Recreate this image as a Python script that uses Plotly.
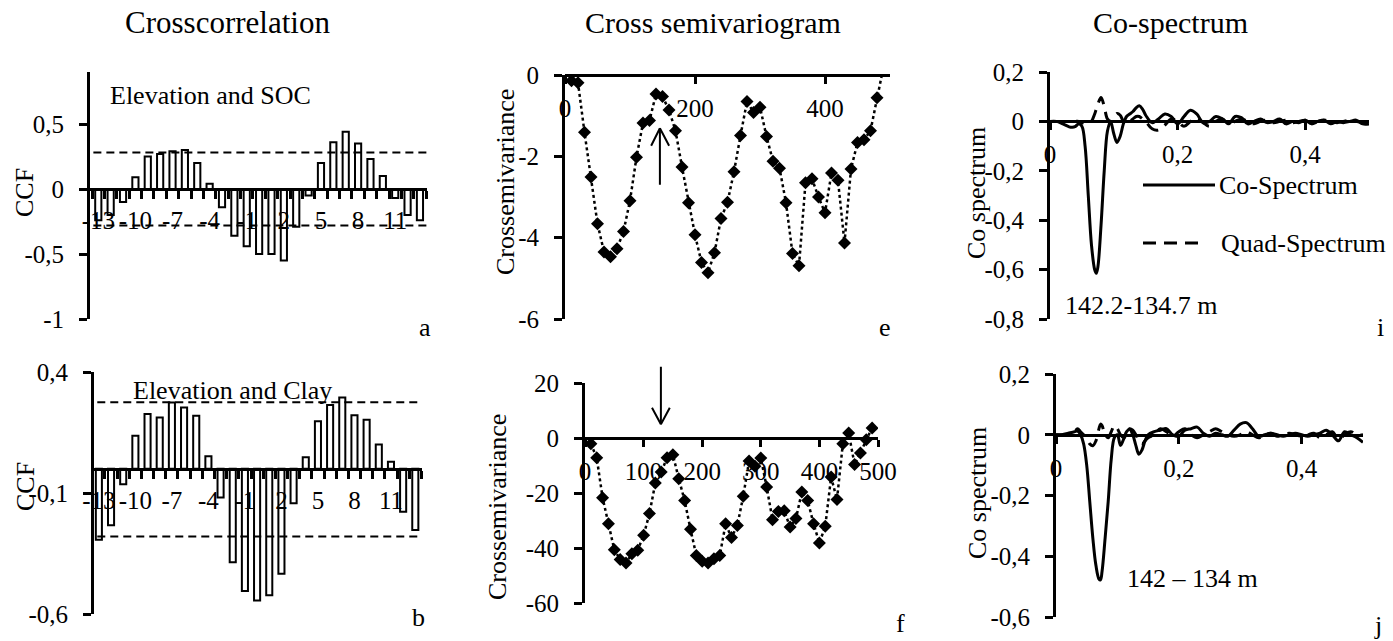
import plotly.graph_objects as go

W, H = 1393, 641
FONT = "Times New Roman, Liberation Serif, DejaVu Serif, serif"

# ---------------- data ----------------
lags = [-13, -12, -11, -10, -9, -8, -7, -6, -5, -4, -3, -2, -1, 0,
        1, 2, 3, 4, 5, 6, 7, 8, 9, 10, 11, 12, 13]
ccf_soc = [-0.24, -0.2, -0.1, 0.09, 0.25, 0.27, 0.29, 0.3, 0.2, 0.04,
           -0.14, -0.36, -0.44, -0.5, -0.5, -0.55, -0.29, -0.05, 0.2, 0.36,
           0.44, 0.35, 0.23, 0.1, -0.07, -0.2, -0.24]
ccf_clay = [-0.293, -0.233, -0.064, 0.137, 0.226, 0.212, 0.274, 0.253, 0.219, 0.052,
            -0.119, -0.386, -0.505, -0.544, -0.523, -0.434, -0.142, 0.048, 0.196, 0.264,
            0.295, 0.221, 0.203, 0.1, 0.029, -0.177, -0.253]
conf_soc = [0.28, -0.28]
conf_clay = [0.275, -0.28]
lag_tickvals = [-13, -10, -7, -4, -1, 2, 5, 8, 11]
lag_ticktext = ["-13", "-10", "-7", "-4", "-1", "2", "5", "8", "11"]

dist = [10, 20, 30, 40, 50, 60, 70, 80, 90, 100, 110, 120, 130, 140, 150, 160,
        170, 180, 190, 200, 210, 220, 230, 240, 250, 260, 270, 280, 290, 300,
        310, 320, 330, 340, 350, 360, 370, 380, 390, 400, 410, 420, 430, 440,
        450, 460, 470, 480, 490]
semivar_soc = [-0.14, -0.19, -1.41, -2.51, -3.66, -4.35, -4.47, -4.27, -3.85, -3.09,
               -2.02, -1.18, -1.12, -0.47, -0.53, -0.86, -1.37, -2.26, -3.14, -3.93,
               -4.61, -4.86, -4.37, -3.53, -3.13, -2.38, -1.49, -0.65, -0.92, -0.79,
               -1.51, -2.12, -2.29, -3.14, -4.39, -4.69, -2.65, -2.55, -3.0, -3.39,
               -2.41, -2.59, -4.13, -2.31, -1.66, -1.59, -1.37, -0.56, 0.2]
semivar_clay = [-2.1, -7.2, -21.7, -31.2, -40.6, -44.2, -45.5, -42.1, -40.8, -35.4,
                -27.5, -16.4, -12.4, -7.2, -6.1, -14.8, -22.7, -33.2, -42.7, -44.8,
                -45.5, -43.9, -42.7, -31.2, -36.2, -31.8, -21.2, -8.4, -10.3, -7.3,
                -17.8, -29.7, -26.7, -26.5, -32.4, -29.3, -19.6, -22.7, -31.2, -38.2,
                -32.1, -14.2, -22.4, -2.1, 1.8, -9.6, -5.5, -0.6, 3.6]

freq = [0, 0.01, 0.02, 0.03, 0.035, 0.04, 0.045, 0.05, 0.055, 0.06, 0.065, 0.07,
        0.0725, 0.075, 0.08, 0.085, 0.09, 0.095, 0.1, 0.105, 0.11, 0.115, 0.12,
        0.125, 0.13, 0.135, 0.14, 0.145, 0.15,
        0.16, 0.17, 0.18, 0.19, 0.2, 0.21, 0.22, 0.23, 0.24, 0.25, 0.26, 0.27,
        0.28, 0.29, 0.3, 0.31, 0.32, 0.33, 0.34, 0.35, 0.36, 0.37, 0.38, 0.39,
        0.4, 0.41, 0.42, 0.43, 0.44, 0.45, 0.46, 0.47, 0.48, 0.49, 0.5]
co_soc = [0, 0, -0.01, -0.022, -0.024, -0.02, -0.01, -0.02, -0.1, -0.3, -0.5, -0.6,
          -0.615, -0.59, -0.42, -0.2, -0.04, 0.0, -0.05, -0.085, -0.06, -0.01, 0.02,
          0.03, 0.04, 0.055, 0.063, 0.05, 0.025,
          -0.005, 0.01, 0.03, 0.02, -0.01, 0.02, 0.045, 0.03, -0.005, 0.0,
          0.02, 0.01, -0.01, 0.02, 0.015, -0.01, 0.0, 0.01, -0.005, 0.0,
          0.01, -0.01, 0.0, -0.005, 0.005, -0.01, 0.0, 0.005, -0.01, 0.0,
          -0.005, 0.0, 0.005, -0.01, -0.01]
quad_soc = [0, 0, 0, 0, 0, 0, 0, -0.005, -0.01, -0.01, 0.0, 0.03,
            0.05, 0.07, 0.097, 0.06, 0.01, 0.0, 0.015, 0.032, 0.025, 0.0, -0.01,
            0.0, 0.01, 0.02, 0.02, 0.01, 0.0,
            -0.03, -0.035, -0.015, 0.01, 0.0, -0.02, 0.0, 0.015, -0.005, -0.02,
            0.0, 0.01, -0.01, 0.0, 0.01, 0.0, -0.01, 0.0, 0.005, -0.005,
            0.0, 0.005, -0.005, 0.0, 0.005, -0.005, 0.0, 0.005, 0.0, -0.005,
            0.0, 0.005, 0.0, -0.005, 0.0]
co_clay = [0, 0, 0.005, 0.01, 0.012, 0.0, -0.03, -0.1, -0.22, -0.34, -0.43, -0.475,
           -0.478, -0.45, -0.34, -0.22, -0.08, -0.01, 0.0, -0.035, -0.015, 0.01, 0.018,
           0.0, -0.035, -0.064, -0.05, -0.02, 0.0,
           0.01, 0.015, 0.02, 0.0, -0.005, 0.015, 0.02, 0.025, 0.005, -0.005,
           0.005, 0.0, -0.005, 0.015, 0.035, 0.04, 0.02, -0.005, 0.0, 0.005,
           0.0, -0.005, 0.0, 0.005, 0.0, -0.005, 0.0, 0.005, 0.015, 0.0,
           -0.02, 0.01, 0.0, -0.01, -0.025]
quad_clay = [0, 0, 0, 0.01, 0.02, 0.01, 0.0, -0.01, -0.03, -0.036, -0.02, 0.02,
             0.035, 0.03, 0.0, -0.01, 0.01, 0.03, 0.02, 0.0, -0.01, 0.0, 0.02,
             0.015, 0.0, -0.02, -0.03, -0.02, -0.01,
             0.0, 0.02, 0.01, -0.005, 0.01, 0.02, 0.0, -0.01, 0.0, 0.01,
             0.02, 0.01, 0.0, -0.005, 0.0, 0.01, 0.0, -0.01, 0.0, 0.005,
             -0.005, 0.0, 0.005, 0.0, -0.005, 0.0, 0.005, -0.01, 0.0, 0.01,
             -0.015, 0.0, 0.01, 0.0, 0.0]

series_names = ["Co-Spectrum", "Quad-Spectrum"]

# ---------------- layout helpers ----------------
def fx(p):
    return p / W


def fy(p):
    return 1 - p / H


# panel boxes in pixels: (left, right, top, bottom), axis ranges
panels = {
    "a": dict(box=(90, 427, 72, 319), xr=[-13.67, 13.57], yr=[-1, 0.9]),
    "b": dict(box=(94, 422, 372, 614), xr=[-13.4, 13.55], yr=[-0.6, 0.4]),
    "e": dict(box=(565, 890, 75, 319), xr=[0, 500], yr=[-6, 0]),
    "f": dict(box=(585, 878, 383, 603), xr=[0, 500], yr=[-60, 20]),
    "i": dict(box=(1050, 1369, 72, 319), xr=[0, 0.5], yr=[-0.8, 0.2]),
    "j": dict(box=(1056, 1363, 374, 617), xr=[0, 0.5], yr=[-0.6, 0.2]),
}
order = ["a", "b", "e", "f", "i", "j"]

fig = go.Figure()

tickfont = dict(family=FONT, size=25, color="black")

for k, name in enumerate(order):
    p = panels[name]
    l, r, t, b = p["box"]
    xdom = [fx(l), fx(r)]
    ydom = [fy(b), fy(t)]
    yr = p["yr"]
    pos = ydom[0] + (0 - yr[0]) / (yr[1] - yr[0]) * (ydom[1] - ydom[0])
    sfx = "" if k == 0 else str(k + 1)
    xa = dict(domain=xdom, range=p["xr"], anchor="free", position=pos,
              automargin=False,
              showline=True, linecolor="black", linewidth=3, showgrid=False,
              zeroline=False, tickfont=tickfont, ticklabelstandoff=3,
              ticks="outside", ticklen=7, tickwidth=3, tickcolor="black")
    ya = dict(domain=ydom, range=yr, anchor="x" + sfx, automargin=False,
              showline=True, linecolor="black", linewidth=3, showgrid=False,
              zeroline=False, tickfont=tickfont, ticks="outside", ticklen=8,
              tickwidth=3, tickcolor="black", ticklabelstandoff=10)
    fig.layout["xaxis" + sfx] = xa
    fig.layout["yaxis" + sfx] = ya

# category-style lag axes
for sfx in ["", "2"]:
    fig.layout["xaxis" + sfx].update(
        tickmode="array", tickvals=lag_tickvals, ticktext=lag_ticktext,
        ticks="", ticklabelstandoff=8,
        minor=dict(ticks="outside", ticklen=8, tickwidth=2.5, tickcolor="black",
                   tick0=0.5, dtick=1, showgrid=False))

fig.layout.yaxis.update(tickmode="array", tickvals=[-1, -0.5, 0, 0.5],
                        ticktext=["-1", "-0,5", "0", "0,5"])
fig.layout.yaxis2.update(tickmode="array", tickvals=[-0.6, -0.1, 0.4],
                         ticktext=["-0,6", "-0,1", "0,4"])
fig.layout.xaxis3.update(tickmode="array", tickvals=[0, 200, 400],
                         ticktext=["0", "200", "400"])
fig.layout.yaxis3.update(tickmode="array", tickvals=[-6, -4, -2, 0],
                         ticktext=["-6", "-4", "-2", "0"])
fig.layout.xaxis4.update(tickmode="array", tickvals=[0, 100, 200, 300, 400, 500],
                         ticktext=["0", "100", "200", "300", "400", "500"])
fig.layout.yaxis4.update(tickmode="array", tickvals=[-60, -40, -20, 0, 20],
                         ticktext=["-60", "-40", "-20", "0", "20"])
fig.layout.xaxis5.update(tickmode="array", tickvals=[0, 0.2, 0.4],
                         ticktext=["0", "0,2", "0,4"])
fig.layout.yaxis5.update(tickmode="array", tickvals=[-0.8, -0.6, -0.4, -0.2, 0, 0.2],
                         ticktext=["-0,8", "-0,6", "-0,4", "-0,2", "0", "0,2"])
fig.layout.xaxis6.update(tickmode="array", tickvals=[0, 0.2, 0.4],
                         ticktext=["0", "0,2", "0,4"])
fig.layout.yaxis6.update(tickmode="array", tickvals=[-0.6, -0.4, -0.2, 0, 0.2],
                         ticktext=["-0,6", "-0,4", "-0,2", "0", "0,2"])

# ---------------- traces ----------------
bar_style = dict(marker=dict(color="white", line=dict(color="black", width=2)),
                 width=0.5, showlegend=False)
fig.add_trace(go.Bar(x=lags, y=ccf_soc, xaxis="x", yaxis="y", **bar_style))
fig.add_trace(go.Bar(x=lags, y=ccf_clay, xaxis="x2", yaxis="y2", **bar_style))

for xr_, yr_, vals in [("x", "y", conf_soc), ("x2", "y2", conf_clay)]:
    for v in vals:
        fig.add_shape(type="line", xref=xr_ + " domain", yref=yr_, x0=0.01, x1=1,
                      y0=v, y1=v, line=dict(color="black", width=2, dash="8px,5px"))

sv_style = dict(mode="lines+markers",
                line=dict(color="black", width=2.5, dash="dot"),
                marker=dict(symbol="diamond", size=10, color="black"),
                showlegend=False)
fig.add_trace(go.Scatter(x=dist, y=semivar_soc, xaxis="x3", yaxis="y3", **sv_style))
fig.add_trace(go.Scatter(x=dist, y=semivar_clay, xaxis="x4", yaxis="y4", **sv_style))

CO_LINE = dict(color="black", width=3, shape="spline")
QUAD_LINE = dict(color="black", width=3, shape="spline", dash="13px,8px")

fig.add_trace(go.Scatter(x=freq, y=co_soc, xaxis="x5", yaxis="y5", mode="lines",
                         line=CO_LINE, name=series_names[0], showlegend=False))
fig.add_trace(go.Scatter(x=freq, y=quad_soc, xaxis="x5", yaxis="y5", mode="lines",
                         line=QUAD_LINE, name=series_names[1], showlegend=False))
fig.add_trace(go.Scatter(x=freq, y=co_clay, xaxis="x6", yaxis="y6", mode="lines",
                         line=CO_LINE, name=series_names[0], showlegend=False))
fig.add_trace(go.Scatter(x=freq, y=quad_clay, xaxis="x6", yaxis="y6", mode="lines",
                         line=QUAD_LINE, name=series_names[1], showlegend=False))

# ---------------- annotations ----------------
ann = []


def text(s, x, y, size=26, xanchor="center", angle=0):
    ann.append(dict(text=s, x=fx(x), y=fy(y), xref="paper", yref="paper",
                    showarrow=False, xanchor=xanchor, yanchor="middle",
                    textangle=angle, font=dict(family=FONT, size=size, color="black")))


text("Crosscorrelation", 227, 22, size=31)
text("Cross semivariogram", 713, 22, size=30)
text("Co-spectrum", 1170, 22, size=30)

text("CCF", 25, 193, angle=-90)
text("CCF", 25, 487, angle=-90)
text("Crossemivariance", 505, 182, angle=-90)
text("Crossemivariance", 497, 507, angle=-90)
text("Co spectrum", 977, 193, angle=-90)
text("Co spectrum", 977, 493, angle=-90)

text("Elevation and SOC", 108, 95, xanchor="left")
text("Elevation and Clay", 131, 390, xanchor="left")
text("142.2-134.7 m", 1063, 305, xanchor="left")
text("142 \u2013 134 m", 1125, 578, xanchor="left")

text("a", 425, 327)
text("b", 418, 617)
text("e", 885, 327)
text("f", 900, 623)
text("i", 1380, 327)
text("j", 1378, 625)

# legend of panel i (long line samples as in the original)
text(series_names[0], 1217, 185, xanchor="left")
text(series_names[1], 1219, 243, xanchor="left")
fig.add_shape(type="line", xref="paper", yref="paper", x0=fx(1143), x1=fx(1215),
              y0=fy(185), y1=fy(185), line=dict(color="black", width=3))
fig.add_shape(type="line", xref="paper", yref="paper", x0=fx(1143), x1=fx(1201),
              y0=fy(243), y1=fy(243), line=dict(color="black", width=3, dash="13px,8px"))


# arrows (drawn as open-V arrows)
def arrow(xref, yref, x, y, segs):
    for ax, ay in segs:
        ann.append(dict(x=x, y=y, xref=xref, yref=yref, ax=ax, ay=ay,
                        axref="pixel", ayref="pixel", text="", showarrow=True,
                        arrowhead=0, arrowwidth=2, arrowcolor="black", standoff=0))


arrow("x3", "y3", 146, -1.31, [(0, 58), (-9.5, 19), (10, 19)])
arrow("x4", "y4", 129.5, 5.0, [(0, -59), (-9.7, -18), (9.7, -18)])

fig.update_layout(
    width=W, height=H, margin=dict(l=0, r=0, t=0, b=0, autoexpand=False),
    paper_bgcolor="white", plot_bgcolor="rgba(0,0,0,0)",
    font=dict(family=FONT, color="black"),
    annotations=ann,
    bargap=0.5,
    showlegend=False,
)

fig.write_html("out.html")
